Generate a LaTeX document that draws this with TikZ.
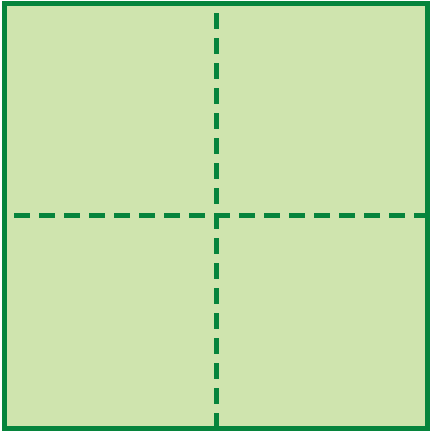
\documentclass[tikz,border=0pt]{standalone}
\usepackage{tikz}
\definecolor{panelfill}{RGB}{207,228,174}
\definecolor{panelline}{RGB}{6,132,60}
\tikzset{
  frame/.style={draw=panelline, fill=panelfill, line width=5pt},
  fold/.style={draw=panelline, line width=5pt, dash pattern=on 16pt off 9pt}
}
\begin{document}
\begin{tikzpicture}[x=1pt,y=-1pt]
\useasboundingbox (0,0) rectangle (432,432);
\draw[frame] (4.5,3.5) rectangle (427.5,428.5);
\coordinate (vt) at (216.5,13);
\coordinate (vb) at (216.5,428);
\coordinate (hl) at (14,215.5);
\coordinate (hr) at (428,215.5);
\draw[fold] (vt) -- (vb);
\draw[fold] (hl) -- (hr);
\end{tikzpicture}
\end{document}
